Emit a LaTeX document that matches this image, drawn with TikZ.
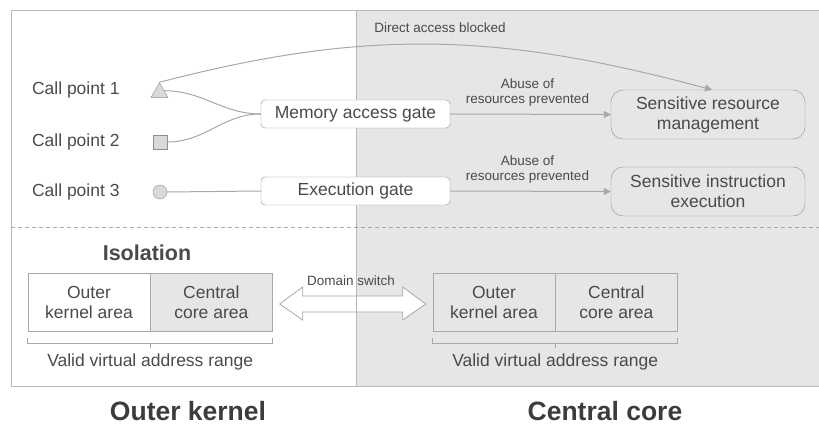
\documentclass[tikz,border=0pt]{standalone}
\usepackage{fontspec}
\setmainfont{Liberation Sans}
\usetikzlibrary{positioning,calc,shapes.geometric,arrows.meta}

\definecolor{bggray}{HTML}{E6E6E6}
\definecolor{linegray}{HTML}{A8A8A8}
\definecolor{boxgray}{HTML}{8E8E8E}
\definecolor{txtgray}{HTML}{4A4A4A}
\definecolor{headgray}{HTML}{3C3C3C}

\begin{document}
\begin{tikzpicture}[x=1pt,y=-1pt,node distance=0pt,text=txtgray,
    font=\fontsize{17.5}{20}\selectfont]
    \tikzset{gate/.style={draw=boxgray,fill=white,rounded corners=4pt,minimum width=189pt,minimum height=28pt,inner sep=0pt}}
    \tikzset{sens/.style={draw=boxgray,fill=bggray,rounded corners=12pt,minimum width=194pt,minimum height=49pt,inner sep=0pt,align=center}}
    \tikzset{cell/.style={draw=linegray,minimum width=122pt,minimum height=58pt,inner sep=0pt,align=center}}
    \tikzset{mark3/.style={draw=boxgray,fill=black!15,inner sep=0pt}}
    \tikzset{note/.style={font=\fontsize{13.5}{15}\selectfont,align=center}}
    \tikzset{link/.style={draw=linegray,line width=1pt}}
    \tikzset{arr/.style={link,-{Triangle[length=7pt,width=7pt]}}}
    \tikzset{brace/.style={draw=linegray,line width=0.8pt}}
    \tikzset{title/.style={text=headgray,anchor=base,inner sep=0pt,text depth=0pt,font=\fontsize{26.5}{30}\bfseries\selectfont}}
    \useasboundingbox (0,0) rectangle (819,425);

    % the two halves
    \fill[bggray] (356,11) rectangle (819,386);
    \draw[draw=linegray!80,line width=1pt] (819,11) -- (11,11) -- (11,386) -- (819,386);

    % isolation part
    \node[font=\fontsize{21.5}{24}\bfseries\selectfont] (isol) at (147,253) {Isolation};
    \node[cell,fill=white] (okleft) at (89,302) {Outer\\kernel area};
    \node[cell,fill=bggray] (ccleft) [right = of okleft] {Central\\core area};
    \node[cell] (okright) at (494,302) {Outer\\kernel area};
    \node[cell] (ccright) [right = of okright] {Central\\core area};
    \coordinate (swc) at ($(ccleft.east)!0.5!(okright.west)+(0,2)$);
    \draw[draw=linegray,fill=white,line width=0.8pt] ($(swc)+(-73,0)$) -- ++(23,-17) -- ++(0,9) -- ++(100,0)
        -- ++(0,-9) -- ++(23,17) -- ++(-23,16) -- ++(0,-8) -- ++(-100,0) -- ++(0,8) -- cycle;
    \node[note] (switchlbl) at (351,281) {Domain switch};

    \draw[line width=1pt,draw=black!28] (356,11) -- (356,386);
    \draw[link,dash pattern=on 4pt off 3pt] (11,227) -- (819,227);

    \draw[brace] ($(okleft.south west)+(0,7)$) -- ++(0,5) -| ($(ccleft.south east)+(0,7)$);
    \draw[brace] ($(okleft.south east)+(0,12)$) -- ++(0,5);
    \node (rangeleft) at ($(okleft.south east)+(0,31)$) {Valid virtual address range};
    \draw[brace] ($(okright.south west)+(0,7)$) -- ++(0,5) -| ($(ccright.south east)+(0,7)$);
    \draw[brace] ($(okright.south east)+(0,12)$) -- ++(0,5);
    \node (rangeright) at ($(okright.south east)+(0,31)$) {Valid virtual address range};

    % call points and gates
    \node[anchor=west] (cp1) at (28.5,90) {Call point 1};
    \node[anchor=west] (cp2) at (28.5,142) {Call point 2};
    \node[anchor=west] (cp3) at (28.5,192) {Call point 3};
    \node[mark3,regular polygon,regular polygon sides=3,minimum size=19.6pt] (tri) at (159.5,92.5) {};
    \node[mark3,rectangle,minimum size=14pt] (sq) at (160,142) {};
    \node[mark3,circle,minimum size=14pt] (circ) at (160,192) {};

    \node[gate] (memgate) at (355.5,114) {Memory access gate};
    \node[gate] (execgate) at (355.5,191) {Execution gate};
    \node[sens] (resmgmt) at (708,114.5) {Sensitive resource\\management};
    \node[sens] (instexec) at (708,191.5) {Sensitive instruction\\execution};

    \path[link]
    ($(tri.corner 1)!0.55!(tri.corner 3)$) edge [out=0,in=180] (memgate.west)
    (sq.east) edge [out=0,in=180] (memgate.west)
    (circ.east) edge (execgate.west);
    \draw[arr] (memgate.east) -- (resmgmt.west)
        node [note,midway,above=4pt,xshift=-3pt] {Abuse of\\resources prevented};
    \draw[arr] (execgate.east) -- (instexec.west)
        node [note,midway,above=4pt,xshift=-3pt] {Abuse of\\resources prevented};
    \draw[arr] (tri.north) .. controls (371,27) and (504,34) .. ([xshift=4pt]resmgmt.north);
    \node[note] (blocked) at (440,28) {Direct access blocked};

    % bottom titles
    \node[title] (outk) at (188,420) {Outer kernel};
    \node[title] (centc) at (605,420) {Central core};
\end{tikzpicture}
\end{document}
